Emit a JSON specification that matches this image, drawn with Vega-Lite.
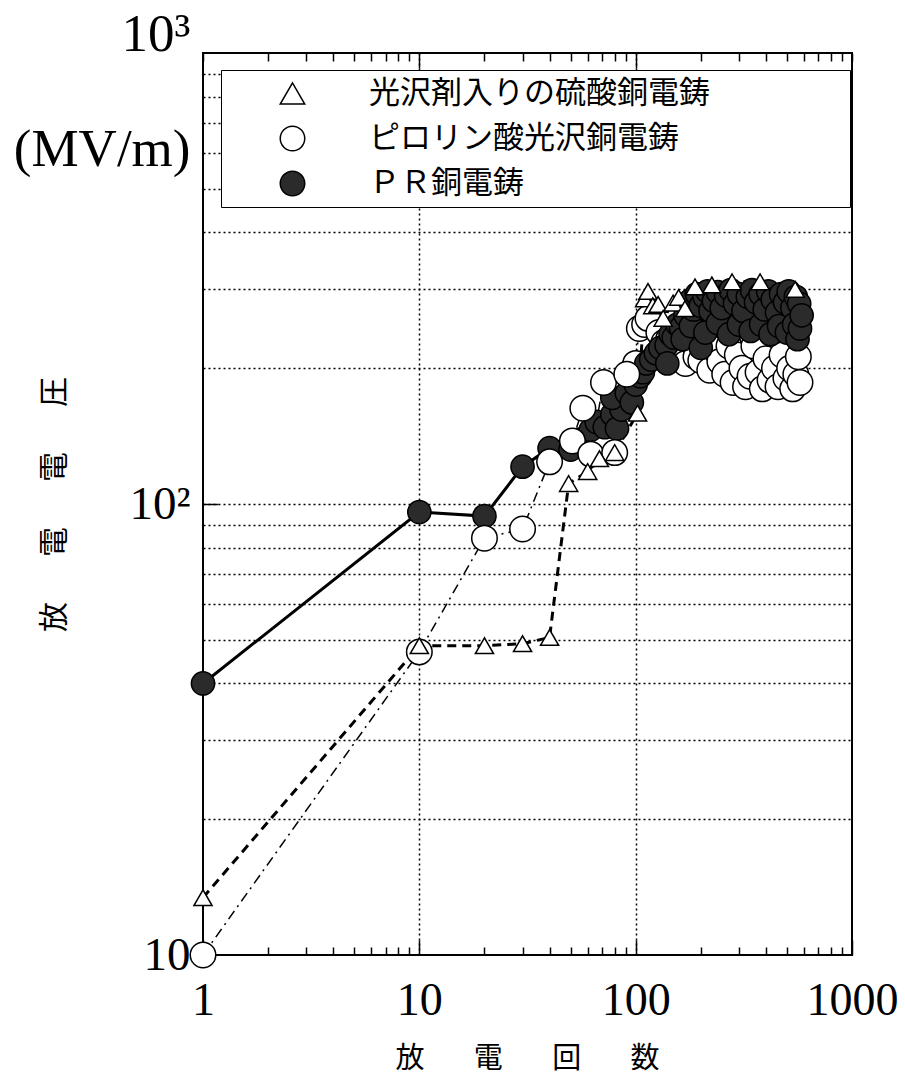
{
  "$schema": "https://vega.github.io/schema/vega-lite/v6.json",
  "width": 649,
  "height": 902,
  "autosize": "none",
  "padding": {"left": 203, "top": 53, "right": 53, "bottom": 134},
  "background": "white",
  "config": {
    "view": {"stroke": "black", "strokeWidth": 2},
    "axis": {"domain": false, "labelFont": "Liberation Serif", "labelColor": "black", "tickColor": "black", "gridColor": "black", "titleColor": "black", "labelFlush": false, "labelOverlap": false, "labelBound": false}
  },
  "data": {"values": [
    {"s": "ＰＲ銅電鋳", "x": 1, "y": 40},
    {"s": "ＰＲ銅電鋳", "x": 10, "y": 96},
    {"s": "ＰＲ銅電鋳", "x": 20, "y": 94},
    {"s": "ＰＲ銅電鋳", "x": 30, "y": 121},
    {"s": "ＰＲ銅電鋳", "x": 40, "y": 133},
    {"s": "ＰＲ銅電鋳", "x": 50, "y": 132},
    {"s": "ＰＲ銅電鋳", "x": 55, "y": 139},
    {"s": "ＰＲ銅電鋳", "x": 62, "y": 146},
    {"s": "ＰＲ銅電鋳", "x": 66, "y": 152},
    {"s": "ＰＲ銅電鋳", "x": 72, "y": 148},
    {"s": "ＰＲ銅電鋳", "x": 78, "y": 158},
    {"s": "ＰＲ銅電鋳", "x": 82, "y": 147},
    {"s": "ＰＲ銅電鋳", "x": 86, "y": 162},
    {"s": "ＰＲ銅電鋳", "x": 78, "y": 172},
    {"s": "ＰＲ銅電鋳", "x": 91, "y": 176},
    {"s": "ＰＲ銅電鋳", "x": 96, "y": 168},
    {"s": "ＰＲ銅電鋳", "x": 100, "y": 184},
    {"s": "ＰＲ銅電鋳", "x": 105, "y": 192},
    {"s": "ＰＲ銅電鋳", "x": 108, "y": 196},
    {"s": "ＰＲ銅電鋳", "x": 112, "y": 205},
    {"s": "ＰＲ銅電鋳", "x": 118, "y": 209},
    {"s": "ＰＲ銅電鋳", "x": 124, "y": 216},
    {"s": "ＰＲ銅電鋳", "x": 130, "y": 222},
    {"s": "ＰＲ銅電鋳", "x": 139, "y": 225},
    {"s": "ＰＲ銅電鋳", "x": 140, "y": 205},
    {"s": "ＰＲ銅電鋳", "x": 145, "y": 238},
    {"s": "ＰＲ銅電鋳", "x": 150, "y": 234},
    {"s": "ＰＲ銅電鋳", "x": 156, "y": 250},
    {"s": "ＰＲ銅電鋳", "x": 162, "y": 246},
    {"s": "ＰＲ銅電鋳", "x": 165, "y": 232},
    {"s": "ＰＲ銅電鋳", "x": 170, "y": 262},
    {"s": "ＰＲ銅電鋳", "x": 178, "y": 282},
    {"s": "ＰＲ銅電鋳", "x": 180, "y": 248},
    {"s": "ＰＲ銅電鋳", "x": 185, "y": 270},
    {"s": "ＰＲ銅電鋳", "x": 192, "y": 292},
    {"s": "ＰＲ銅電鋳", "x": 200, "y": 275},
    {"s": "ＰＲ銅電鋳", "x": 200, "y": 222},
    {"s": "ＰＲ銅電鋳", "x": 208, "y": 288},
    {"s": "ＰＲ銅電鋳", "x": 210, "y": 240},
    {"s": "ＰＲ銅電鋳", "x": 215, "y": 296},
    {"s": "ＰＲ銅電鋳", "x": 222, "y": 268},
    {"s": "ＰＲ銅電鋳", "x": 230, "y": 282},
    {"s": "ＰＲ銅電鋳", "x": 240, "y": 295},
    {"s": "ＰＲ銅電鋳", "x": 240, "y": 252},
    {"s": "ＰＲ銅電鋳", "x": 250, "y": 272},
    {"s": "ＰＲ銅電鋳", "x": 262, "y": 290},
    {"s": "ＰＲ銅電鋳", "x": 270, "y": 238},
    {"s": "ＰＲ銅電鋳", "x": 275, "y": 298},
    {"s": "ＰＲ銅電鋳", "x": 288, "y": 278},
    {"s": "ＰＲ銅電鋳", "x": 300, "y": 292},
    {"s": "ＰＲ銅電鋳", "x": 300, "y": 250},
    {"s": "ＰＲ銅電鋳", "x": 315, "y": 268},
    {"s": "ＰＲ銅電鋳", "x": 330, "y": 288},
    {"s": "ＰＲ銅電鋳", "x": 340, "y": 242},
    {"s": "ＰＲ銅電鋳", "x": 345, "y": 298},
    {"s": "ＰＲ銅電鋳", "x": 360, "y": 280},
    {"s": "ＰＲ銅電鋳", "x": 378, "y": 292},
    {"s": "ＰＲ銅電鋳", "x": 380, "y": 250},
    {"s": "ＰＲ銅電鋳", "x": 395, "y": 270},
    {"s": "ＰＲ銅電鋳", "x": 410, "y": 296},
    {"s": "ＰＲ銅電鋳", "x": 420, "y": 238},
    {"s": "ＰＲ銅電鋳", "x": 430, "y": 284},
    {"s": "ＰＲ銅電鋳", "x": 450, "y": 266},
    {"s": "ＰＲ銅電鋳", "x": 460, "y": 248},
    {"s": "ＰＲ銅電鋳", "x": 470, "y": 292},
    {"s": "ＰＲ銅電鋳", "x": 490, "y": 280},
    {"s": "ＰＲ銅電鋳", "x": 500, "y": 240},
    {"s": "ＰＲ銅電鋳", "x": 510, "y": 296},
    {"s": "ＰＲ銅電鋳", "x": 530, "y": 272},
    {"s": "ＰＲ銅電鋳", "x": 540, "y": 250},
    {"s": "ＰＲ銅電鋳", "x": 550, "y": 288},
    {"s": "ＰＲ銅電鋳", "x": 560, "y": 232},
    {"s": "ＰＲ銅電鋳", "x": 570, "y": 278},
    {"s": "ＰＲ銅電鋳", "x": 575, "y": 245},
    {"s": "ＰＲ銅電鋳", "x": 585, "y": 262},
    {"s": "ピロリン酸光沢銅電鋳", "x": 1, "y": 10},
    {"s": "ピロリン酸光沢銅電鋳", "x": 10, "y": 47},
    {"s": "ピロリン酸光沢銅電鋳", "x": 20, "y": 84},
    {"s": "ピロリン酸光沢銅電鋳", "x": 30, "y": 88},
    {"s": "ピロリン酸光沢銅電鋳", "x": 40, "y": 124},
    {"s": "ピロリン酸光沢銅電鋳", "x": 51, "y": 138},
    {"s": "ピロリン酸光沢銅電鋳", "x": 57, "y": 163},
    {"s": "ピロリン酸光沢銅電鋳", "x": 62, "y": 129},
    {"s": "ピロリン酸光沢銅電鋳", "x": 71, "y": 186},
    {"s": "ピロリン酸光沢銅電鋳", "x": 80, "y": 130},
    {"s": "ピロリン酸光沢銅電鋳", "x": 91, "y": 194},
    {"s": "ピロリン酸光沢銅電鋳", "x": 100, "y": 205},
    {"s": "ピロリン酸光沢銅電鋳", "x": 104, "y": 245},
    {"s": "ピロリン酸光沢銅電鋳", "x": 110, "y": 250},
    {"s": "ピロリン酸光沢銅電鋳", "x": 114, "y": 258},
    {"s": "ピロリン酸光沢銅電鋳", "x": 128, "y": 240},
    {"s": "ピロリン酸光沢銅電鋳", "x": 135, "y": 228},
    {"s": "ピロリン酸光沢銅電鋳", "x": 142, "y": 232},
    {"s": "ピロリン酸光沢銅電鋳", "x": 150, "y": 215},
    {"s": "ピロリン酸光沢銅電鋳", "x": 160, "y": 225},
    {"s": "ピロリン酸光沢銅電鋳", "x": 170, "y": 205},
    {"s": "ピロリン酸光沢銅電鋳", "x": 180, "y": 230},
    {"s": "ピロリン酸光沢銅電鋳", "x": 190, "y": 212},
    {"s": "ピロリン酸光沢銅電鋳", "x": 200, "y": 208},
    {"s": "ピロリン酸光沢銅電鋳", "x": 210, "y": 226},
    {"s": "ピロリン酸光沢銅電鋳", "x": 220, "y": 198},
    {"s": "ピロリン酸光沢銅電鋳", "x": 232, "y": 220},
    {"s": "ピロリン酸光沢銅電鋳", "x": 245, "y": 207},
    {"s": "ピロリン酸光沢銅電鋳", "x": 258, "y": 194},
    {"s": "ピロリン酸光沢銅電鋳", "x": 270, "y": 224},
    {"s": "ピロリン酸光沢銅電鋳", "x": 282, "y": 186},
    {"s": "ピロリン酸光沢銅電鋳", "x": 295, "y": 214},
    {"s": "ピロリン酸光沢銅電鋳", "x": 310, "y": 200},
    {"s": "ピロリン酸光沢銅電鋳", "x": 322, "y": 182},
    {"s": "ピロリン酸光沢銅電鋳", "x": 338, "y": 192},
    {"s": "ピロリン酸光沢銅電鋳", "x": 352, "y": 224},
    {"s": "ピロリン酸光沢銅電鋳", "x": 368, "y": 196},
    {"s": "ピロリン酸光沢銅電鋳", "x": 385, "y": 180},
    {"s": "ピロリン酸光沢銅電鋳", "x": 400, "y": 210},
    {"s": "ピロリン酸光沢銅電鋳", "x": 418, "y": 188},
    {"s": "ピロリン酸光沢銅電鋳", "x": 438, "y": 200},
    {"s": "ピロリン酸光沢銅電鋳", "x": 455, "y": 182},
    {"s": "ピロリン酸光沢銅電鋳", "x": 475, "y": 214},
    {"s": "ピロリン酸光沢銅電鋳", "x": 495, "y": 190},
    {"s": "ピロリン酸光沢銅電鋳", "x": 515, "y": 200},
    {"s": "ピロリン酸光沢銅電鋳", "x": 532, "y": 180},
    {"s": "ピロリン酸光沢銅電鋳", "x": 550, "y": 194},
    {"s": "ピロリン酸光沢銅電鋳", "x": 565, "y": 212},
    {"s": "ピロリン酸光沢銅電鋳", "x": 575, "y": 186},
    {"s": "光沢剤入りの硫酸銅電鋳", "x": 1, "y": 13.4},
    {"s": "光沢剤入りの硫酸銅電鋳", "x": 10, "y": 48.5},
    {"s": "光沢剤入りの硫酸銅電鋳", "x": 20, "y": 48.5},
    {"s": "光沢剤入りの硫酸銅電鋳", "x": 30, "y": 49},
    {"s": "光沢剤入りの硫酸銅電鋳", "x": 40, "y": 50.6},
    {"s": "光沢剤入りの硫酸銅電鋳", "x": 49, "y": 111},
    {"s": "光沢剤入りの硫酸銅電鋳", "x": 60, "y": 118},
    {"s": "光沢剤入りの硫酸銅電鋳", "x": 68, "y": 126},
    {"s": "光沢剤入りの硫酸銅電鋳", "x": 80, "y": 130},
    {"s": "光沢剤入りの硫酸銅電鋳", "x": 102, "y": 159},
    {"s": "光沢剤入りの硫酸銅電鋳", "x": 110, "y": 285},
    {"s": "光沢剤入りの硫酸銅電鋳", "x": 114, "y": 296},
    {"s": "光沢剤入りの硫酸銅電鋳", "x": 120, "y": 275},
    {"s": "光沢剤入りの硫酸銅電鋳", "x": 127, "y": 277},
    {"s": "光沢剤入りの硫酸銅電鋳", "x": 134, "y": 258},
    {"s": "光沢剤入りの硫酸銅電鋳", "x": 149, "y": 279},
    {"s": "光沢剤入りの硫酸銅電鋳", "x": 158, "y": 287},
    {"s": "光沢剤入りの硫酸銅電鋳", "x": 169, "y": 271},
    {"s": "光沢剤入りの硫酸銅電鋳", "x": 188, "y": 303},
    {"s": "光沢剤入りの硫酸銅電鋳", "x": 225, "y": 306},
    {"s": "光沢剤入りの硫酸銅電鋳", "x": 279, "y": 311},
    {"s": "光沢剤入りの硫酸銅電鋳", "x": 376, "y": 311},
    {"s": "光沢剤入りの硫酸銅電鋳", "x": 546, "y": 299}
  ]},
  "layer": [
    {
      "transform": [{"filter": "datum.s == '光沢剤入りの硫酸銅電鋳'"}],
      "mark": {"type": "line", "color": "black", "strokeDash": [9, 6], "strokeWidth": 3},
      "encoding": {
        "x": {"field": "x", "type": "quantitative", "scale": {"type": "log", "domain": [1, 1000]},
          "axis": {
            "orient": "bottom",
            "values": [1,2,3,4,5,6,7,8,9,10,20,30,40,50,60,70,80,90,100,200,300,400,500,600,700,800,900,1000],
            "labelExpr": "datum.value == 1 ? '1' : datum.value == 10 ? '10' : datum.value == 100 ? '100' : datum.value == 1000 ? '1000' : ''",
            "labelFontSize": 46, "labelBaseline": "middle", "labelPadding": 60,
            "tickSize": {"condition": {"test": "datum.value == 1 || datum.value == 10 || datum.value == 100 || datum.value == 1000", "value": -15}, "value": -8},
            "tickWidth": 1.5,
            "grid": true, "gridDash": [2, 3], "gridWidth": 1.5,
            "gridOpacity": {"condition": {"test": "datum.value == 10 || datum.value == 100", "value": 1}, "value": 0},
            "title": "放　\u2002\u2009電　\u2002\u2009回　\u2002\u2009数", "titleFont": "Noto Sans CJK JP", "titleFontSize": 29, "titleFontWeight": "normal",
            "titleX": 324, "titleY": 103, "titleAlign": "center", "titleBaseline": "middle"
          }},
        "y": {"field": "y", "type": "quantitative", "scale": {"type": "log", "domain": [10, 1000]},
          "axis": {
            "orient": "left",
            "values": [10,20,30,40,50,60,70,80,90,100,200,300,400,500,600,700,800,900,1000],
            "labelExpr": "datum.value == 1000 ? ['10³', '(MV/m)'] : datum.value == 100 ? '10²' : datum.value == 10 ? '10' : ''",
            "labelFontSize": {"condition": {"test": "datum.value == 1000", "value": 53}, "value": 47},
            "labelLineHeight": 115, "labelAlign": "right", "labelBaseline": "middle",
            "labelOffset": {"condition": {"test": "datum.value == 1000", "value": -19}, "value": 0},
            "labelPadding": 28,
            "tickSize": -15, "tickWidth": 1.5,
            "tickOpacity": {"condition": {"test": "datum.value == 100", "value": 1}, "value": 0},
            "grid": true, "gridDash": [2, 3], "gridWidth": 1.5,
            "gridOpacity": {"condition": {"test": "datum.value == 10 || datum.value == 1000", "value": 0}, "value": 1},
            "title": "放　\u2002電　\u2002電　\u2002圧", "titleFont": "Noto Sans CJK JP", "titleFontSize": 30, "titleFontWeight": "normal",
            "titleAngle": 270, "titleX": -149, "titleY": 451, "titleAlign": "center", "titleBaseline": "middle"
          }}
      }
    },
    {
      "transform": [{"filter": "datum.s == 'ピロリン酸光沢銅電鋳'"}],
      "mark": {"type": "line", "color": "black", "strokeDash": [10, 5, 2, 5], "strokeWidth": 1.5},
      "encoding": {
        "x": {"field": "x", "type": "quantitative", "axis": null},
        "y": {"field": "y", "type": "quantitative", "axis": null}
      }
    },
    {
      "transform": [{"filter": "datum.s == 'ＰＲ銅電鋳'"}],
      "mark": {"type": "line", "color": "black", "strokeWidth": 3},
      "encoding": {
        "x": {"field": "x", "type": "quantitative", "axis": null},
        "y": {"field": "y", "type": "quantitative", "axis": null}
      }
    },
    {
      "transform": [{"filter": "datum.s == 'ピロリン酸光沢銅電鋳' && datum.x >= 100"}],
      "mark": {"type": "point", "filled": true, "strokeWidth": 1.5, "opacity": 1, "size": 650},
      "encoding": {
        "x": {"field": "x", "type": "quantitative",
          "axis": {
            "orient": "top",
            "values": [1,2,3,4,5,6,7,8,9,10,20,30,40,50,60,70,80,90,100,200,300,400,500,600,700,800,900,1000],
            "labels": false, "grid": false, "title": null,
            "tickSize": {"condition": {"test": "datum.value == 10 || datum.value == 100", "value": -15}, "value": -8},
            "tickWidth": 1.5
          }},
        "y": {"field": "y", "type": "quantitative",
          "axis": {"orient": "right", "labels": false, "ticks": false, "grid": false, "title": null}},
        "shape": {"field": "s", "type": "nominal",
          "scale": {"domain": ["光沢剤入りの硫酸銅電鋳", "ピロリン酸光沢銅電鋳", "ＰＲ銅電鋳"], "range": ["triangle-up", "circle", "circle"]},
          "legend": {
            "orient": "none", "legendX": 18, "legendY": 17,
            "title": " ", "titleOrient": "right", "titlePadding": 132, "titleFontSize": 2,
            "padding": 8, "fillColor": "white", "strokeColor": "black",
            "symbolSize": 600, "symbolStrokeWidth": 1.5,
            "symbolOffset": 48, "labelOffset": 61, "labelFont": "Noto Sans CJK JP", "labelFontSize": 31,
            "labelColor": "black", "rowPadding": 13, "labelLimit": 900
          }},
        "fill": {"field": "s", "type": "nominal",
          "scale": {"domain": ["光沢剤入りの硫酸銅電鋳", "ピロリン酸光沢銅電鋳", "ＰＲ銅電鋳"], "range": ["white", "white", "#2b2b2b"]}},
        "stroke": {"field": "s", "type": "nominal",
          "scale": {"domain": ["光沢剤入りの硫酸銅電鋳", "ピロリン酸光沢銅電鋳", "ＰＲ銅電鋳"], "range": ["black", "black", "black"]}}
      }
    },
    {
      "transform": [{"filter": "datum.s == 'ＰＲ銅電鋳'"}],
      "mark": {"type": "point", "filled": true, "strokeWidth": 1.5, "opacity": 1, "size": 540},
      "encoding": {
        "x": {"field": "x", "type": "quantitative", "axis": null},
        "y": {"field": "y", "type": "quantitative", "axis": null},
        "shape": {"field": "s", "type": "nominal"},
        "fill": {"field": "s", "type": "nominal"},
        "stroke": {"field": "s", "type": "nominal"}
      }
    },
    {
      "transform": [{"filter": "datum.s == 'ピロリン酸光沢銅電鋳' && datum.x < 100"}],
      "mark": {"type": "point", "filled": true, "strokeWidth": 1.5, "opacity": 1, "size": 650},
      "encoding": {
        "x": {"field": "x", "type": "quantitative", "axis": null},
        "y": {"field": "y", "type": "quantitative", "axis": null},
        "shape": {"field": "s", "type": "nominal"},
        "fill": {"field": "s", "type": "nominal"},
        "stroke": {"field": "s", "type": "nominal"}
      }
    },
    {
      "transform": [{"filter": "datum.s == '光沢剤入りの硫酸銅電鋳'"}],
      "mark": {"type": "point", "filled": true, "strokeWidth": 1.5, "opacity": 1, "size": 330},
      "encoding": {
        "x": {"field": "x", "type": "quantitative", "axis": null},
        "y": {"field": "y", "type": "quantitative", "axis": null},
        "shape": {"field": "s", "type": "nominal"},
        "fill": {"field": "s", "type": "nominal"},
        "stroke": {"field": "s", "type": "nominal"}
      }
    }
  ],
  "resolve": {"axis": {"x": "independent", "y": "independent"}}
}
